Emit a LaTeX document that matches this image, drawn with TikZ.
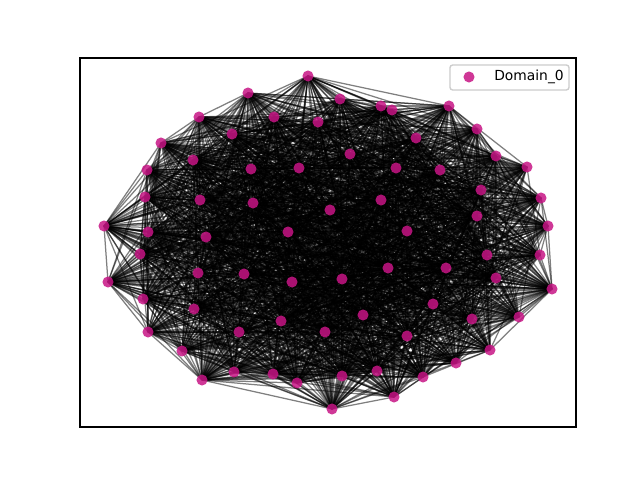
\documentclass[tikz,border=0pt]{standalone}
\usepackage{fontspec}
\setmainfont{DejaVu Sans}
\pgfdeclarelayer{bg}
\pgfsetlayers{bg,main}
\definecolor{dom}{RGB}{199,21,133}
\begin{document}
\begin{tikzpicture}[x=0.01in,y=-0.01in,
  vtx/.style={circle,fill=dom,fill opacity=0.85,draw=none,inner sep=0pt,minimum size=8pt},
  edge/.style={black,opacity=0.5,line width=0.9pt},
  frame/.style={line width=0.8pt},
  legbox/.style={draw=black!20,line width=1pt,rounded corners=2pt,fill=white,fill opacity=0.8,inner sep=0pt,minimum width=1.19in,minimum height=0.25in},
  legtext/.style={font=\fontsize{10}{12}\selectfont,inner sep=0pt,text opacity=1}]
\useasboundingbox (0,0) rectangle (640,480);
\foreach \k/\x/\y in {1/308/76,2/248/93,3/340/99,4/381/106,5/392/110,6/449/106,7/199/117,8/274/117,9/318/122,10/232/134,
 11/416/138,12/477/129,13/161/143,14/350/154,15/193/160,16/251/169,17/299/168,18/396/168,19/440/170,20/496/156,
 21/527/167,22/147/170,23/481/190,24/145/197,25/200/200,26/253/203,27/330/210,28/381/200,29/541/198,30/477/216,
 31/104/226,32/148/232,33/206/237,34/288/232,35/407/231,36/548/226,37/140/254,38/487/255,39/540/255,40/198/273,
 41/244/274,42/388/268,43/446/268,44/342/279,45/292/282,46/108/282,47/496/278,48/552/289,49/143/299,50/433/304,
 51/194/309,52/363/315,53/281/321,54/472/319,55/519/317,56/239/332,57/325/332,58/148/332,59/407/336,60/182/351,
 61/490/350,62/456/363,63/377/371,64/342/376,65/423/377,66/202/380,67/234/372,68/273/374,69/297/383,70/394/397,71/332/409}
  \node[vtx] (n\k) at (\x,\y) {};
\begin{pgfonlayer}{bg}
\pgfmathsetseed{7}
\foreach \i in {1,...,70}{
  \pgfmathtruncatemacro\s{\i+1}
  \foreach \j in {\s,...,71}{
    \pgfmathsetmacro\r{rnd}
    \ifdim\r pt<0.75pt \draw[edge] (n\i.center) -- (n\j.center);\fi
  }}
\end{pgfonlayer}
\draw[frame] (80,58) rectangle (576,427);
\node[legbox] (legend) at (509.5,77.5) {};
\node[vtx] (lm) at (469,77) {};
\node[legtext,anchor=west] (lt) at (494,77) {Domain\_0};
\end{tikzpicture}
\end{document}
